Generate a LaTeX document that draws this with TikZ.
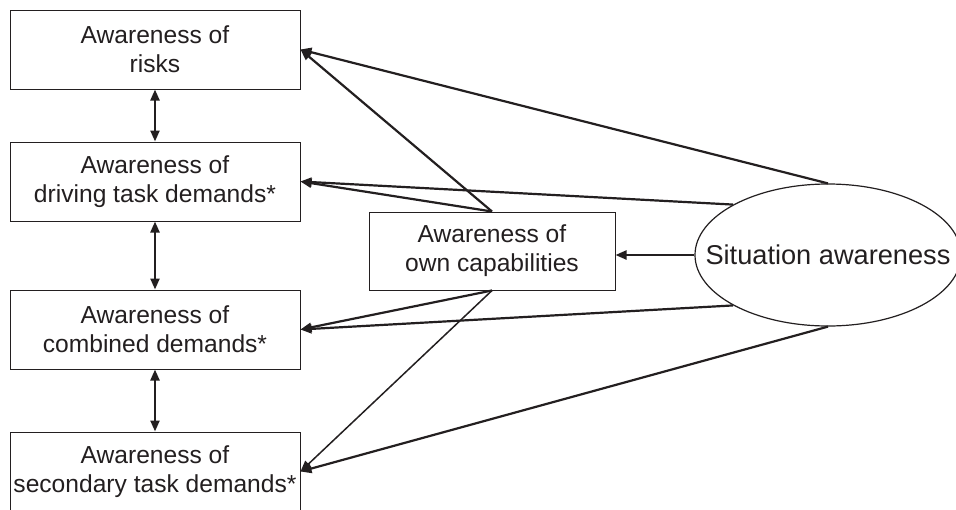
\documentclass[tikz,border=0pt]{standalone}
\usepackage{fontspec}
\setmainfont{Liberation Sans}
\usetikzlibrary{shapes.geometric,arrows.meta}
\definecolor{ink}{RGB}{35,31,32}
\tikzset{
  awbox/.style={draw=ink, line width=1pt, minimum width=290pt, minimum height=79pt, inner sep=0pt, align=center, text=ink, font=\fontsize{24.6}{29}\selectfont},
  cbox/.style={awbox, minimum width=246pt, minimum height=78pt},
  saell/.style={draw=ink, line width=1.2pt, ellipse, minimum width=266pt, minimum height=142pt, inner sep=0pt, text=ink, font=\fontsize{27.2}{32}\selectfont},
  conn/.style={draw=ink, line width=2.2pt, -{Triangle[length=11pt,width=9pt]}},
  dconn/.style={draw=ink, line width=2.2pt, {Triangle[length=11pt,width=9pt]}-{Triangle[length=11pt,width=9pt]}}
}
\begin{document}
\begin{tikzpicture}[x=1pt,y=-1pt]
\clip (0,0) rectangle (956,509);
\fill[white] (0,0) rectangle (956,509);
\node[awbox] (b1) at (155,49.5) {Awareness of\\risks};
\node[awbox] (b2) at (155,181.5) {Awareness of\\driving task demands*};
\node[awbox] (b3) at (155,329.5) {Awareness of\\combined demands*};
\node[awbox] (b4) at (155,471.5) {Awareness of\\secondary task demands*};
\node[cbox] (c) at (492,251) {Awareness of\\own capabilities};
\node[saell] (e) at (828,255) {\makebox[0pt][c]{Situation awareness}};
% vertical double arrows
\draw[dconn] (b1.south) -- (b2.north);
\draw[dconn] (b2.south) -- (b3.north);
\draw[dconn] (b3.south) -- (b4.north);
% from center box
\draw[conn] (c.north) -- (b1.east);
\draw[conn] (c.north) -- (b2.east);
\draw[conn] (c.south) -- (b3.east);
\draw[conn, line width=1.5pt] (c.south) -- (b4.east);
% from ellipse
\draw[conn] (e.north) -- (b1.east);
\draw[conn] (e.152) -- (b2.east);
\draw[conn] (e.208) -- (b3.east);
\draw[conn] (e.south) -- (b4.east);
\draw[conn] (e.west) -- (c.east |- e.west);
\end{tikzpicture}
\end{document}
